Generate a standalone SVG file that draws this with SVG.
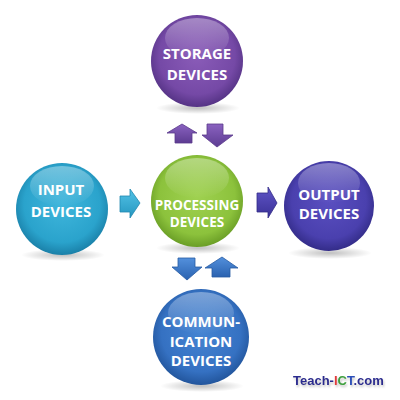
<svg xmlns="http://www.w3.org/2000/svg" width="400" height="400" viewBox="0 0 400 400">
<defs>
<radialGradient id="gPurple" cx="50%" cy="45%" r="55%"><stop offset="0" stop-color="#8a5cb8"/><stop offset="0.75" stop-color="#7549a6"/><stop offset="1" stop-color="#553385"/></radialGradient>
<radialGradient id="gTeal" cx="50%" cy="45%" r="55%"><stop offset="0" stop-color="#3fb6dc"/><stop offset="0.75" stop-color="#2aa3cc"/><stop offset="1" stop-color="#1a80a8"/></radialGradient>
<radialGradient id="gGreen" cx="50%" cy="45%" r="55%"><stop offset="0" stop-color="#9fd150"/><stop offset="0.75" stop-color="#8cc23c"/><stop offset="1" stop-color="#6a9e26"/></radialGradient>
<radialGradient id="gIndigo" cx="50%" cy="45%" r="55%"><stop offset="0" stop-color="#5a4fc0"/><stop offset="0.75" stop-color="#4a40ae"/><stop offset="1" stop-color="#332c88"/></radialGradient>
<radialGradient id="gBlue" cx="50%" cy="45%" r="55%"><stop offset="0" stop-color="#4584d2"/><stop offset="0.75" stop-color="#3571c2"/><stop offset="1" stop-color="#22559c"/></radialGradient>
<linearGradient id="gloss" x1="0" y1="0" x2="0" y2="1"><stop offset="0" stop-color="#fff" stop-opacity="0.35"/><stop offset="1" stop-color="#fff" stop-opacity="0"/></linearGradient>
<radialGradient id="shadow" cx="50%" cy="50%" r="50%"><stop offset="0" stop-color="#000" stop-opacity="0.25"/><stop offset="1" stop-color="#000" stop-opacity="0"/></radialGradient>
<linearGradient id="aPurple" x1="0" y1="0" x2="0" y2="1"><stop offset="0" stop-color="#8a62c0"/><stop offset="1" stop-color="#5d3c92"/></linearGradient>
<linearGradient id="aTeal" x1="0" y1="0" x2="0" y2="1"><stop offset="0" stop-color="#52c2e6"/><stop offset="1" stop-color="#2596bf"/></linearGradient>
<linearGradient id="aIndigo" x1="0" y1="0" x2="0" y2="1"><stop offset="0" stop-color="#6055c8"/><stop offset="1" stop-color="#3a3196"/></linearGradient>
<linearGradient id="aBlue" x1="0" y1="0" x2="0" y2="1"><stop offset="0" stop-color="#5390dc"/><stop offset="1" stop-color="#2a62b0"/></linearGradient>
<filter id="wmShadow" x="-10%" y="-30%" width="120%" height="180%"><feDropShadow dx="1" dy="2" stdDeviation="1" flood-color="#888" flood-opacity="0.5"/></filter>
</defs>
<style>
.lbl{font-family:"Open Sans","Liberation Sans",sans-serif;font-weight:700;font-size:15px;fill:#fff;text-anchor:middle}
.sm{font-size:13.5px}
.arr{stroke-width:0.8}
.wm{font-family:"Liberation Sans",Arial,sans-serif;font-weight:700;font-size:13px}
</style>
<rect width="400" height="400" fill="#fff"/>

<g id="connectors">
<path class="arr" d="M182,124 L197,133 L192,133 L192,143 L175,143 L175,133 L167,133 Z" fill="url(#aPurple)" stroke="#5a3a8c"/>
<path class="arr" d="M207,124 L223,124 L223,135 L233,135 L217,147 L202,135 L207,135 Z" fill="url(#aPurple)" stroke="#5a3a8c"/>
<path class="arr" d="M120,196 L130,196 L130,189 L140,203 L130,218 L130,212 L120,212 Z" fill="url(#aTeal)" stroke="#2288b0"/>
<path class="arr" d="M257,193 L268,193 L268,187 L277,203 L268,218 L268,212 L257,212 Z" fill="url(#aIndigo)" stroke="#342c88"/>
<path class="arr" d="M178,258 L195,258 L195,267 L202,267 L187,280 L172,267 L178,267 Z" fill="url(#aBlue)" stroke="#275aa2"/>
<path class="arr" d="M222,257 L238,268 L230,268 L230,277 L212,277 L212,268 L205,268 Z" fill="url(#aBlue)" stroke="#275aa2"/>
</g>

<g id="storage">
<ellipse cx="198" cy="108" rx="42" ry="6" fill="url(#shadow)"/>
<circle cx="197" cy="61" r="46" fill="url(#gPurple)"/>
<ellipse cx="197" cy="38" rx="32" ry="20" fill="url(#gloss)"/>
<text class="lbl" x="197" y="59">STORAGE</text>
<text class="lbl" x="197" y="80">DEVICES</text>
</g>

<g id="input">
<ellipse cx="63" cy="255" rx="42" ry="6" fill="url(#shadow)"/>
<circle cx="62" cy="209" r="46" fill="url(#gTeal)"/>
<ellipse cx="62" cy="186" rx="32" ry="20" fill="url(#gloss)"/>
<text class="lbl" x="61" y="195">INPUT</text>
<text class="lbl" x="61" y="217">DEVICES</text>
</g>

<g id="processing">
<ellipse cx="198" cy="248" rx="42" ry="6" fill="url(#shadow)"/>
<circle cx="197" cy="201" r="46" fill="url(#gGreen)"/>
<ellipse cx="197" cy="178" rx="32" ry="20" fill="url(#gloss)"/>
<text class="lbl sm" x="197" y="210">PROCESSING</text>
<text class="lbl sm" x="197" y="227">DEVICES</text>
</g>

<g id="output">
<ellipse cx="330" cy="253" rx="42" ry="6" fill="url(#shadow)"/>
<circle cx="329" cy="206" r="45" fill="url(#gIndigo)"/>
<ellipse cx="329" cy="183" rx="31" ry="20" fill="url(#gloss)"/>
<text class="lbl" x="329" y="200">OUTPUT</text>
<text class="lbl" x="329" y="219">DEVICES</text>
</g>

<g id="communication">
<ellipse cx="202" cy="386" rx="42" ry="6" fill="url(#shadow)"/>
<circle cx="201" cy="337" r="48" fill="url(#gBlue)"/>
<ellipse cx="201" cy="313" rx="33" ry="21" fill="url(#gloss)"/>
<text class="lbl" x="201" y="327">COMMUN-</text>
<text class="lbl" x="201" y="347">ICATION</text>
<text class="lbl" x="201" y="366">DEVICES</text>
</g>

<g id="watermark" filter="url(#wmShadow)">
<text class="wm" x="293" y="385"><tspan fill="#2b2b8f">Teach-</tspan><tspan fill="#e03a3a">I</tspan><tspan fill="#3ea03e">C</tspan><tspan fill="#2b4fb8">T</tspan><tspan fill="#2b2b8f">.com</tspan></text>
</g>
</svg>
